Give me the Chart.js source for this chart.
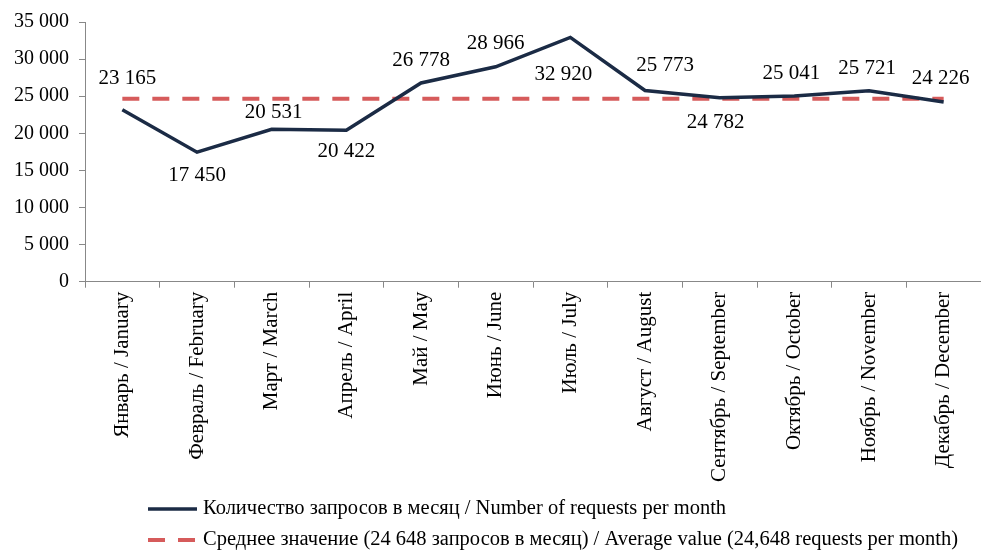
<!DOCTYPE html>
<html>
<head>
<meta charset="utf-8">
<script src="https://cdn.jsdelivr.net/npm/chart.js@4"></script>
<style>
  html, body { margin: 0; padding: 0; background: #fff; }
  #wrap { width: 981px; height: 553px; position: relative; }
</style>
</head>
<body>
<div id="wrap"><canvas id="requestsChart"></canvas></div>
<script>
// months (x axis)
const months = [
    'Январь / January', 'Февраль / February', 'Март / March', 'Апрель / April',
    'Май / May', 'Июнь / June', 'Июль / July', 'Август / August',
    'Сентябрь / September', 'Октябрь / October', 'Ноябрь / November', 'Декабрь / December'
];

// requests per month
const requests = [23165, 17450, 20531, 20422, 26778, 28966, 32920, 25773, 24782, 25041, 25721, 24226];

// average line (24 648)
const average = [24648, 24648, 24648, 24648, 24648, 24648, 24648, 24648, 24648, 24648, 24648, 24648];

const seriesNames = [
    'Количество запросов в месяц / Number of requests per month',
    'Среднее значение (24 648 запросов в месяц) / Average value (24,648 requests per month)'
];

// where each value label sits relative to its point [dx, dy]
const labelOffsets = [
    [5, -31], [0, 23], [2, -17], [0, 21], [0, -23], [0, -23],
    [-7, 37], [20, -25], [-4, 25], [-3, -22], [-2, -22], [-3, -23]
];

const serif = "'Liberation Serif', 'Times New Roman', serif";
const fmt = v => String(v).replace(/\B(?=(\d{3})+(?!\d))/g, ' ');

// value labels next to each point
const valueLabels = {
    id: 'valueLabels',
    afterDatasetsDraw(chart) {
        const ctx = chart.ctx;
        const meta = chart.getDatasetMeta(0);
        ctx.save();
        ctx.font = '21px ' + serif;
        ctx.fillStyle = '#000';
        ctx.textAlign = 'center';
        ctx.textBaseline = 'middle';
        meta.data.forEach((pt, i) => {
            const off = labelOffsets[i];
            ctx.fillText(fmt(requests[i]), pt.x + off[0], pt.y + off[1]);
        });
        ctx.restore();
    }
};

// stacked legend at the bottom
const stackedLegend = {
    id: 'stackedLegend',
    afterDraw(chart) {
        const ctx = chart.ctx;
        ctx.save();
        ctx.font = '20.5px ' + serif;
        ctx.textBaseline = 'middle';
        chart.data.datasets.forEach((ds, i) => {
            const y = 509 + i * 31;
            ctx.beginPath();
            ctx.strokeStyle = ds.borderColor;
            ctx.lineWidth = ds.borderWidth;
            ctx.setLineDash(ds.borderDash || []);
            ctx.moveTo(148, y);
            ctx.lineTo(197, y);
            ctx.stroke();
            ctx.setLineDash([]);
            ctx.fillStyle = '#000';
            ctx.fillText(seriesNames[i], 203, y);
        });
        ctx.restore();
    }
};

const ctx = document.getElementById('requestsChart').getContext('2d');
const requestsChart = new Chart(ctx, {
    type: 'line',
    data: {
        labels: months,
        datasets: [{
            label: seriesNames[0],
            data: requests,
            borderColor: '#1b2b45',
            borderWidth: 3.5,
            pointRadius: 0,
            tension: 0,
            fill: false,
            order: 0
        }, {
            label: seriesNames[1],
            data: average,
            borderColor: '#d65b5b',
            borderWidth: 4,
            borderDash: [17, 13],
            pointRadius: 0,
            tension: 0,
            fill: false,
            order: 1
        }]
    },
    options: {
        responsive: true,
        maintainAspectRatio: false,
        animation: false,
        layout: { padding: { top: 11, right: 0, bottom: 67, left: 4 } },
        plugins: {
            legend: { display: false },
            tooltip: { enabled: false }
        },
        scales: {
            x: {
                offset: true,
                grid: { offset: true, drawOnChartArea: false, tickLength: 6, color: '#888' },
                border: { color: '#888', width: 1 },
                ticks: {
                    minRotation: 90, maxRotation: 90, autoSkip: false,
                    color: '#000', padding: 4,
                    font: { family: serif, size: 21 }
                }
            },
            y: {
                min: 0, max: 35000,
                grid: { drawOnChartArea: false, tickLength: 6, color: '#888' },
                border: { color: '#888', width: 1 },
                ticks: {
                    stepSize: 5000, color: '#000', padding: 10,
                    font: { family: serif, size: 20 },
                    callback: v => fmt(v)
                }
            }
        }
    },
    plugins: [valueLabels, stackedLegend]
});
</script>
</body>
</html>
